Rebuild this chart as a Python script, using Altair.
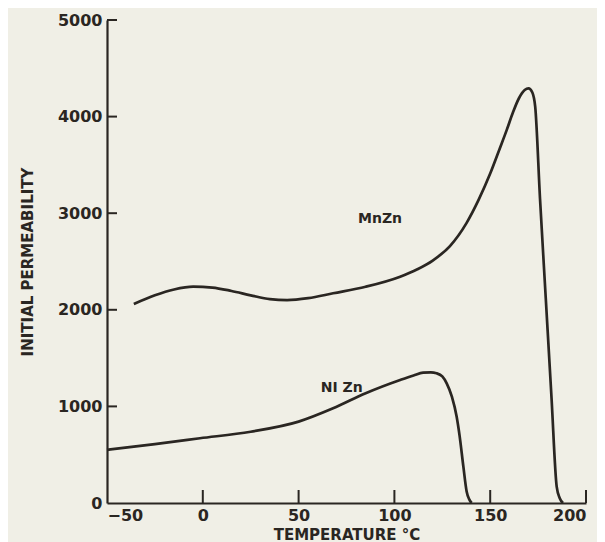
import altair as alt
import pandas as pd

# MnZn ferrite: initial permeability vs temperature
mnzn_t = [-36, -25, -15, -5, 5, 15, 25, 35, 44, 55, 68, 85, 103, 112, 120,
          129, 137.7, 144, 150, 155, 158.6, 162, 165, 168, 170, 172,
          173.5, 176, 179, 182, 184.7, 186.3, 188]
mnzn_mu = [2060, 2150, 2210, 2239, 2230, 2195, 2150, 2110, 2100, 2120, 2171,
           2239, 2343, 2420, 2510, 2660, 2900, 3140, 3410, 3670, 3860, 4050,
           4190, 4275, 4293, 4250, 4100, 3150, 2120, 1090, 170, 50, 0]

# NiZn ferrite
nizn_t = [-50, -25, -1.5, 25, 50, 68, 85, 103, 110, 115, 119, 122, 125,
          127.3, 130, 132.5, 134, 136, 137.7, 139, 140.3]
nizn_mu = [550, 610, 670, 738, 842, 980, 1136, 1273, 1320, 1349, 1352, 1343,
           1310, 1239, 1100, 893, 700, 376, 120, 40, 0]

x_ticks = [0, 50, 100, 150, 200]
y_ticks = [1000, 2000, 3000, 4000, 5000]

label_text = ["MnZn", "NI Zn"]
label_t = [92.5, 72.5]
label_mu = [2940, 1190]

INK = "#2a2622"
BG = "#f0efe6"
FONT = "DejaVu Sans"
W, H = 479, 483

df = pd.concat([
    pd.DataFrame({"t": mnzn_t, "mu": mnzn_mu, "s": "MnZn"}),
    pd.DataFrame({"t": nizn_t, "mu": nizn_mu, "s": "NiZn"}),
])

xs = alt.Scale(domain=[-50, 200], nice=False, zero=False)
ys = alt.Scale(domain=[0, 5000], nice=False)

x_axis = alt.Axis(values=[-50, 0, 50, 100, 150, 200], ticks=False, grid=False,
                  format="d", title="TEMPERATURE °C", labelPadding=4, titlePadding=4,
                  labelFontSize=16, titleFontSize=15)
y_axis = alt.Axis(values=[0, 1000, 2000, 3000, 4000, 5000], ticks=False, grid=False,
                  format="d", title="INITIAL  PERMEABILITY", labelPadding=5,
                  titlePadding=22, labelFontSize=16, titleFontSize=15)

lines = alt.Chart(df).mark_line(
    color=INK, strokeWidth=2.7, interpolate="monotone"
).encode(
    x=alt.X("t:Q", scale=xs, axis=x_axis),
    y=alt.Y("mu:Q", scale=ys, axis=y_axis),
    detail="s:N",
)

xt = alt.Chart(pd.DataFrame({"t": x_ticks})).mark_rule(
    color=INK, strokeWidth=2
).encode(
    x=alt.X("t:Q", scale=xs),
    y=alt.value(H),
    y2=alt.value(H - 13),
)

yt = alt.Chart(pd.DataFrame({"mu": y_ticks})).mark_rule(
    color=INK, strokeWidth=2
).encode(
    y=alt.Y("mu:Q", scale=ys),
    x=alt.value(0),
    x2=alt.value(10),
)

labels = alt.Chart(pd.DataFrame({"lab": label_text, "t": label_t, "mu": label_mu})).mark_text(
    font=FONT, fontWeight="bold", fontSize=14, color=INK
).encode(
    x=alt.X("t:Q", scale=xs),
    y=alt.Y("mu:Q", scale=ys),
    text="lab:N",
)

chart = alt.layer(lines, xt, yt, labels).properties(
    width=W, height=H,
    autosize=alt.AutoSizeParams(type="none"),
    padding={"left": 99, "top": 12, "right": 11, "bottom": 46},
    background=BG,
).configure_view(stroke=None).configure_axis(
    domainColor=INK, domainWidth=2.2,
    labelFont=FONT, labelFontWeight="bold", labelColor=INK,
    titleFont=FONT, titleFontWeight="bold", titleColor=INK,
)

chart.save("out.html", embed_options={"renderer": "svg", "actions": False})
